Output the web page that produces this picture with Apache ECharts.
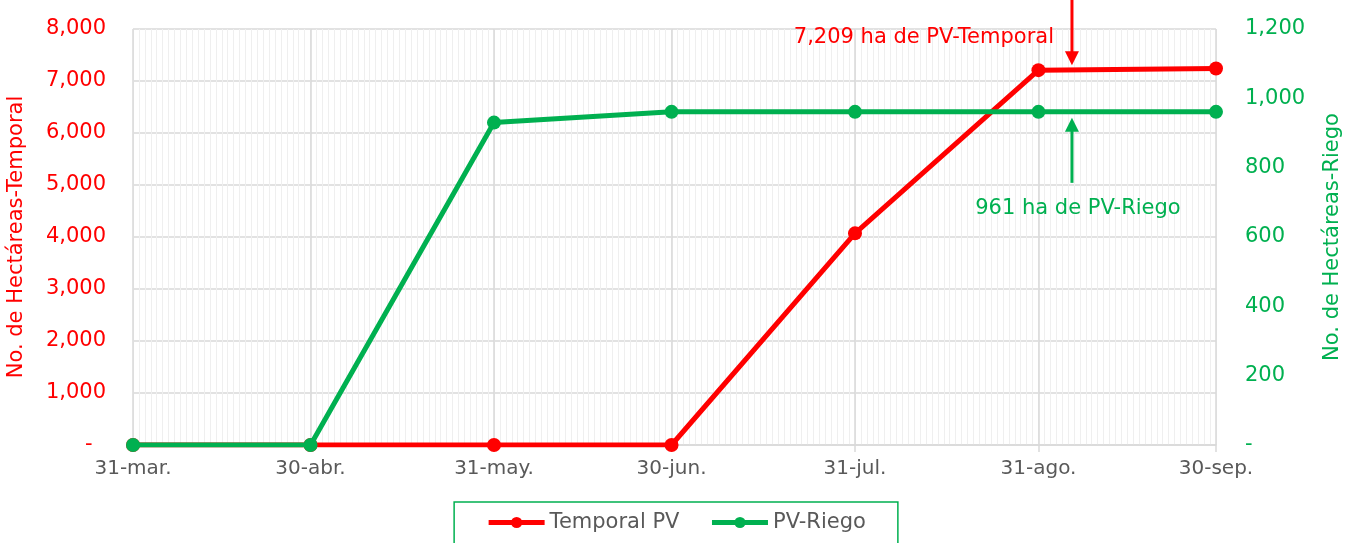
<!DOCTYPE html>
<html>
<head>
<meta charset="utf-8">
<script src="https://cdn.jsdelivr.net/npm/echarts@6/dist/echarts.min.js"></script>
<style>
  html, body { margin: 0; padding: 0; background: #fff; }
  #chart { width: 1352px; height: 543px; }
</style>
</head>
<body>
<div id="chart"></div>
<script>
// month-end dates shown on the x axis
const monthEnds = ['31-mar.', '30-abr.', '31-may.', '30-jun.', '31-jul.', '31-ago.', '30-sep.']
// hectares
const temporalPV = [0, 0, 0, 0, 4070, 7209, 7240]
const riegoPV = [0, 0, 930, 961, 961, 961, 961]
const noteTemporal = '7,209 ha de PV-Temporal'
const noteRiego = '961 ha de PV-Riego'
const noteDay = '6-sep.'

// every day from 31-mar to 30-sep (daily minor grid)
const mesesAbr = ['ene', 'feb', 'mar', 'abr', 'may', 'jun', 'jul', 'ago', 'sep', 'oct', 'nov', 'dic']
const days = []
for (let d = new Date(2021, 2, 31); d <= new Date(2021, 8, 30); d.setDate(d.getDate() + 1)) {
    days.push(d.getDate() + '-' + mesesAbr[d.getMonth()] + '.')
}
const isMonthEnd = (i, v) => monthEnds.indexOf(v === undefined ? days[i] : v) >= 0

const RED = '#ff0000'
const GREEN = '#00b050'
const FONT = 'DejaVu Sans'

let chart = echarts.init(document.getElementById('chart'))

const fmtNum = v => v === 0 ? '-  ' : v.toLocaleString('en-US')

let option = {
    backgroundColor: '#fff',
    animation: false,
    textStyle: { fontFamily: FONT },
    grid: { left: 133, right: 136, top: 29, bottom: 98, outerBoundsMode: 'none' },
    legend: {
        top: 502,
        left: 'center',
        padding: [10, 32, 40, 32],
        borderColor: GREEN,
        borderWidth: 1.5,
        itemWidth: 56,
        itemHeight: 14,
        itemGap: 30,
        lineStyle: { width: 5 },
        textStyle: { color: '#595959', fontSize: 21, fontFamily: FONT },
        data: ['Temporal PV', 'PV-Riego']
    },
    xAxis: [{
        type: 'category',
        data: days,
        boundaryGap: false,
        z: 1,
        axisLine: { lineStyle: { color: '#d9d9d9', width: 1.5 } },
        axisTick: { interval: isMonthEnd, length: 7, lineStyle: { color: '#d9d9d9', width: 1.5 } },
        axisLabel: {
            interval: isMonthEnd,
            color: '#595959',
            fontSize: 20,
            fontFamily: FONT,
            margin: 14
        },
        splitLine: { show: true, interval: isMonthEnd, lineStyle: { color: '#d9d9d9', width: 1.5 } }
    }, {
        type: 'category',
        data: days,
        boundaryGap: false,
        position: 'bottom',
        z: 0,
        axisLine: { show: false },
        axisTick: { show: false },
        axisLabel: { show: false },
        splitLine: { show: true, interval: 0, lineStyle: { color: '#efefef', width: 1 } }
    }],
    yAxis: [{
        type: 'value',
        min: 0,
        max: 8000,
        interval: 1000,
        name: 'No. de Hectáreas-Temporal',
        nameLocation: 'middle',
        nameGap: 106,
        nameTextStyle: { color: RED, fontSize: 21, fontFamily: FONT },
        axisLine: { show: false },
        axisTick: { show: false },
        axisLabel: { color: RED, fontSize: 21, fontFamily: FONT, margin: 27, formatter: fmtNum },
        splitLine: { lineStyle: { color: '#d9d9d9', width: 1.5 } }
    }, {
        type: 'value',
        min: 0,
        max: 1200,
        interval: 200,
        name: 'No. de Hectáreas-Riego',
        nameLocation: 'middle',
        nameGap: 106,
        nameTextStyle: { color: GREEN, fontSize: 21, fontFamily: FONT },
        axisLine: { show: false },
        axisTick: { show: false },
        axisLabel: { color: GREEN, fontSize: 21, fontFamily: FONT, margin: 29, formatter: fmtNum, align: 'left' },
        splitLine: { show: false }
    }],
    series: [{
        name: 'Temporal PV',
        type: 'line',
        yAxisIndex: 0,
        data: monthEnds.map((d, i) => [d, temporalPV[i]]),
        symbol: 'circle',
        symbolSize: 14,
        lineStyle: { color: RED, width: 5 },
        itemStyle: { color: RED },
        z: 3
    }, {
        name: 'PV-Riego',
        type: 'line',
        yAxisIndex: 1,
        data: monthEnds.map((d, i) => [d, riegoPV[i]]),
        symbol: 'circle',
        symbolSize: 14,
        lineStyle: { color: GREEN, width: 5 },
        itemStyle: { color: GREEN },
        z: 4
    }]
}
chart.setOption(option)

// annotation arrows placed from the axes
const ax = chart.convertToPixel({ xAxisIndex: 0 }, noteDay)
const yRed = chart.convertToPixel({ yAxisIndex: 0 }, temporalPV[5])
const yGreen = chart.convertToPixel({ yAxisIndex: 1 }, riegoPV[5])

const arrow = (x, y1, y2, color) => {
    const dir = y2 > y1 ? 1 : -1
    return [{
        type: 'line',
        shape: { x1: x, y1: y1, x2: x, y2: y2 - dir * 12 },
        style: { stroke: color, lineWidth: 3 },
        z: 10
    }, {
        type: 'polygon',
        shape: { points: [[x - 7, y2 - dir * 14], [x + 7, y2 - dir * 14], [x, y2]] },
        style: { fill: color },
        z: 10
    }]
}

chart.setOption({
    graphic: [
        ...arrow(ax - 2, 0, yRed - 5, RED),
        ...arrow(ax - 2, yGreen + 71, yGreen + 6, GREEN),
        {
            type: 'text',
            x: ax - 20,
            y: 38,
            style: { text: noteTemporal, fill: RED, fontSize: 21, fontFamily: FONT, align: 'right', verticalAlign: 'middle' },
            z: 10
        },
        {
            type: 'text',
            x: ax + 4,
            y: yGreen + 97,
            style: { text: noteRiego, fill: GREEN, fontSize: 21, fontFamily: FONT, align: 'center', verticalAlign: 'middle' },
            z: 10
        }
    ]
})
</script>
</body>
</html>
